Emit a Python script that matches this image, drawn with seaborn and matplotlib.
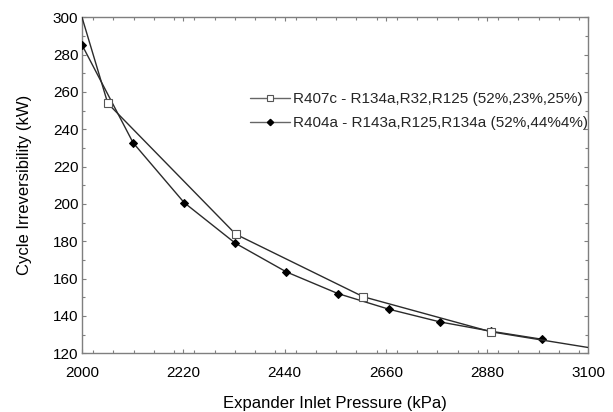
import numpy as np
import pandas as pd
import matplotlib
matplotlib.use("Agg")
import matplotlib.pyplot as plt
from matplotlib.lines import Line2D
from matplotlib.ticker import MultipleLocator
import seaborn as sns

# Expander inlet pressure (kPa) and cycle irreversibility (kW)
r407c_pressure = [2000, 2056, 2334, 2611, 2889, 3100]
r407c_irrev = [300.0, 253.9, 183.8, 150.3, 131.5, 123.1]
r407c_marked = [1, 2, 3, 4]

r404a_pressure = [2000, 2111, 2222, 2333, 2444, 2556, 2667, 2778, 2889, 3000]
r404a_irrev = [285.2, 232.8, 200.7, 179.0, 163.6, 152.0, 143.6, 136.8, 131.8, 127.5]

labels = ["R407c - R134a,R32,R125 (52%,23%,25%)",
          "R404a - R143a,R125,R134a (52%,44%4%)"]

x_ticks = [2000, 2220, 2440, 2660, 2880, 3100]
y_ticks = [120, 140, 160, 180, 200, 220, 240, 260, 280, 300]

sns.set_theme(style="ticks")
plt.rcParams["font.family"] = ["Liberation Sans", "DejaVu Sans"]

line_col = "#2b2b2b"
spine_col = "#7f7f7f"

fig = plt.figure(figsize=(6.13, 4.12), dpi=100)
ax = fig.add_axes([82 / 613, 1 - 353.3 / 412, (588.3 - 82) / 613, (353.3 - 17.3) / 412])

df404 = pd.DataFrame({"p": r404a_pressure, "i": r404a_irrev})
df407 = pd.DataFrame({"p": r407c_pressure, "i": r407c_irrev})

sns.lineplot(data=df404, x="p", y="i", ax=ax, sort=False, estimator=None,
             color=line_col, lw=1.0, marker="D", markersize=4.0,
             markerfacecolor="black", markeredgecolor="black", zorder=3)
sns.lineplot(data=df407, x="p", y="i", ax=ax, sort=False, estimator=None,
             color=line_col, lw=1.0, marker="s", markersize=5.5,
             markerfacecolor="white", markeredgecolor="#555555",
             markeredgewidth=0.8, markevery=r407c_marked, zorder=4)

ax.set_xlim(x_ticks[0], x_ticks[-1])
ax.set_ylim(y_ticks[0], y_ticks[-1])
ax.set_xticks(x_ticks)
ax.set_yticks(y_ticks)
ax.xaxis.set_minor_locator(MultipleLocator(44))
ax.yaxis.set_minor_locator(MultipleLocator(10))

for s in ax.spines.values():
    s.set_visible(True)
    s.set_color(spine_col)
    s.set_linewidth(1.0)

ax.tick_params(which="both", direction="in", top=True, right=True,
               color=spine_col, width=0.8, labelsize=11, labelcolor="black")
ax.tick_params(which="major", length=3.2)
ax.tick_params(which="minor", length=2.2)
ax.tick_params(axis="y", which="major", pad=2.7)
ax.tick_params(axis="x", which="major", pad=9)

ax.set_xlabel("Expander Inlet Pressure (kPa)", fontsize=12, color="black", labelpad=12)
ax.set_ylabel("Cycle Irreversibility (kW)", fontsize=12, color="black", labelpad=15)
ax.grid(False)

handles = [
    Line2D([], [], color="#666666", lw=1.0, marker="s", markersize=4,
           markerfacecolor="white", markeredgecolor="#555555", markeredgewidth=0.8),
    Line2D([], [], color="#666666", lw=1.0, marker="D", markersize=3.2,
           markerfacecolor="black", markeredgecolor="black"),
]
ax.legend(handles, labels, loc="upper left",
          bbox_to_anchor=(250 / 613, 1 - 92.5 / 412), bbox_transform=fig.transFigure,
          frameon=False, fontsize=11.0, handlelength=2.6, handletextpad=0.2,
          borderpad=0, borderaxespad=0, labelspacing=0.65)

fig.savefig("out.png", dpi=100)
